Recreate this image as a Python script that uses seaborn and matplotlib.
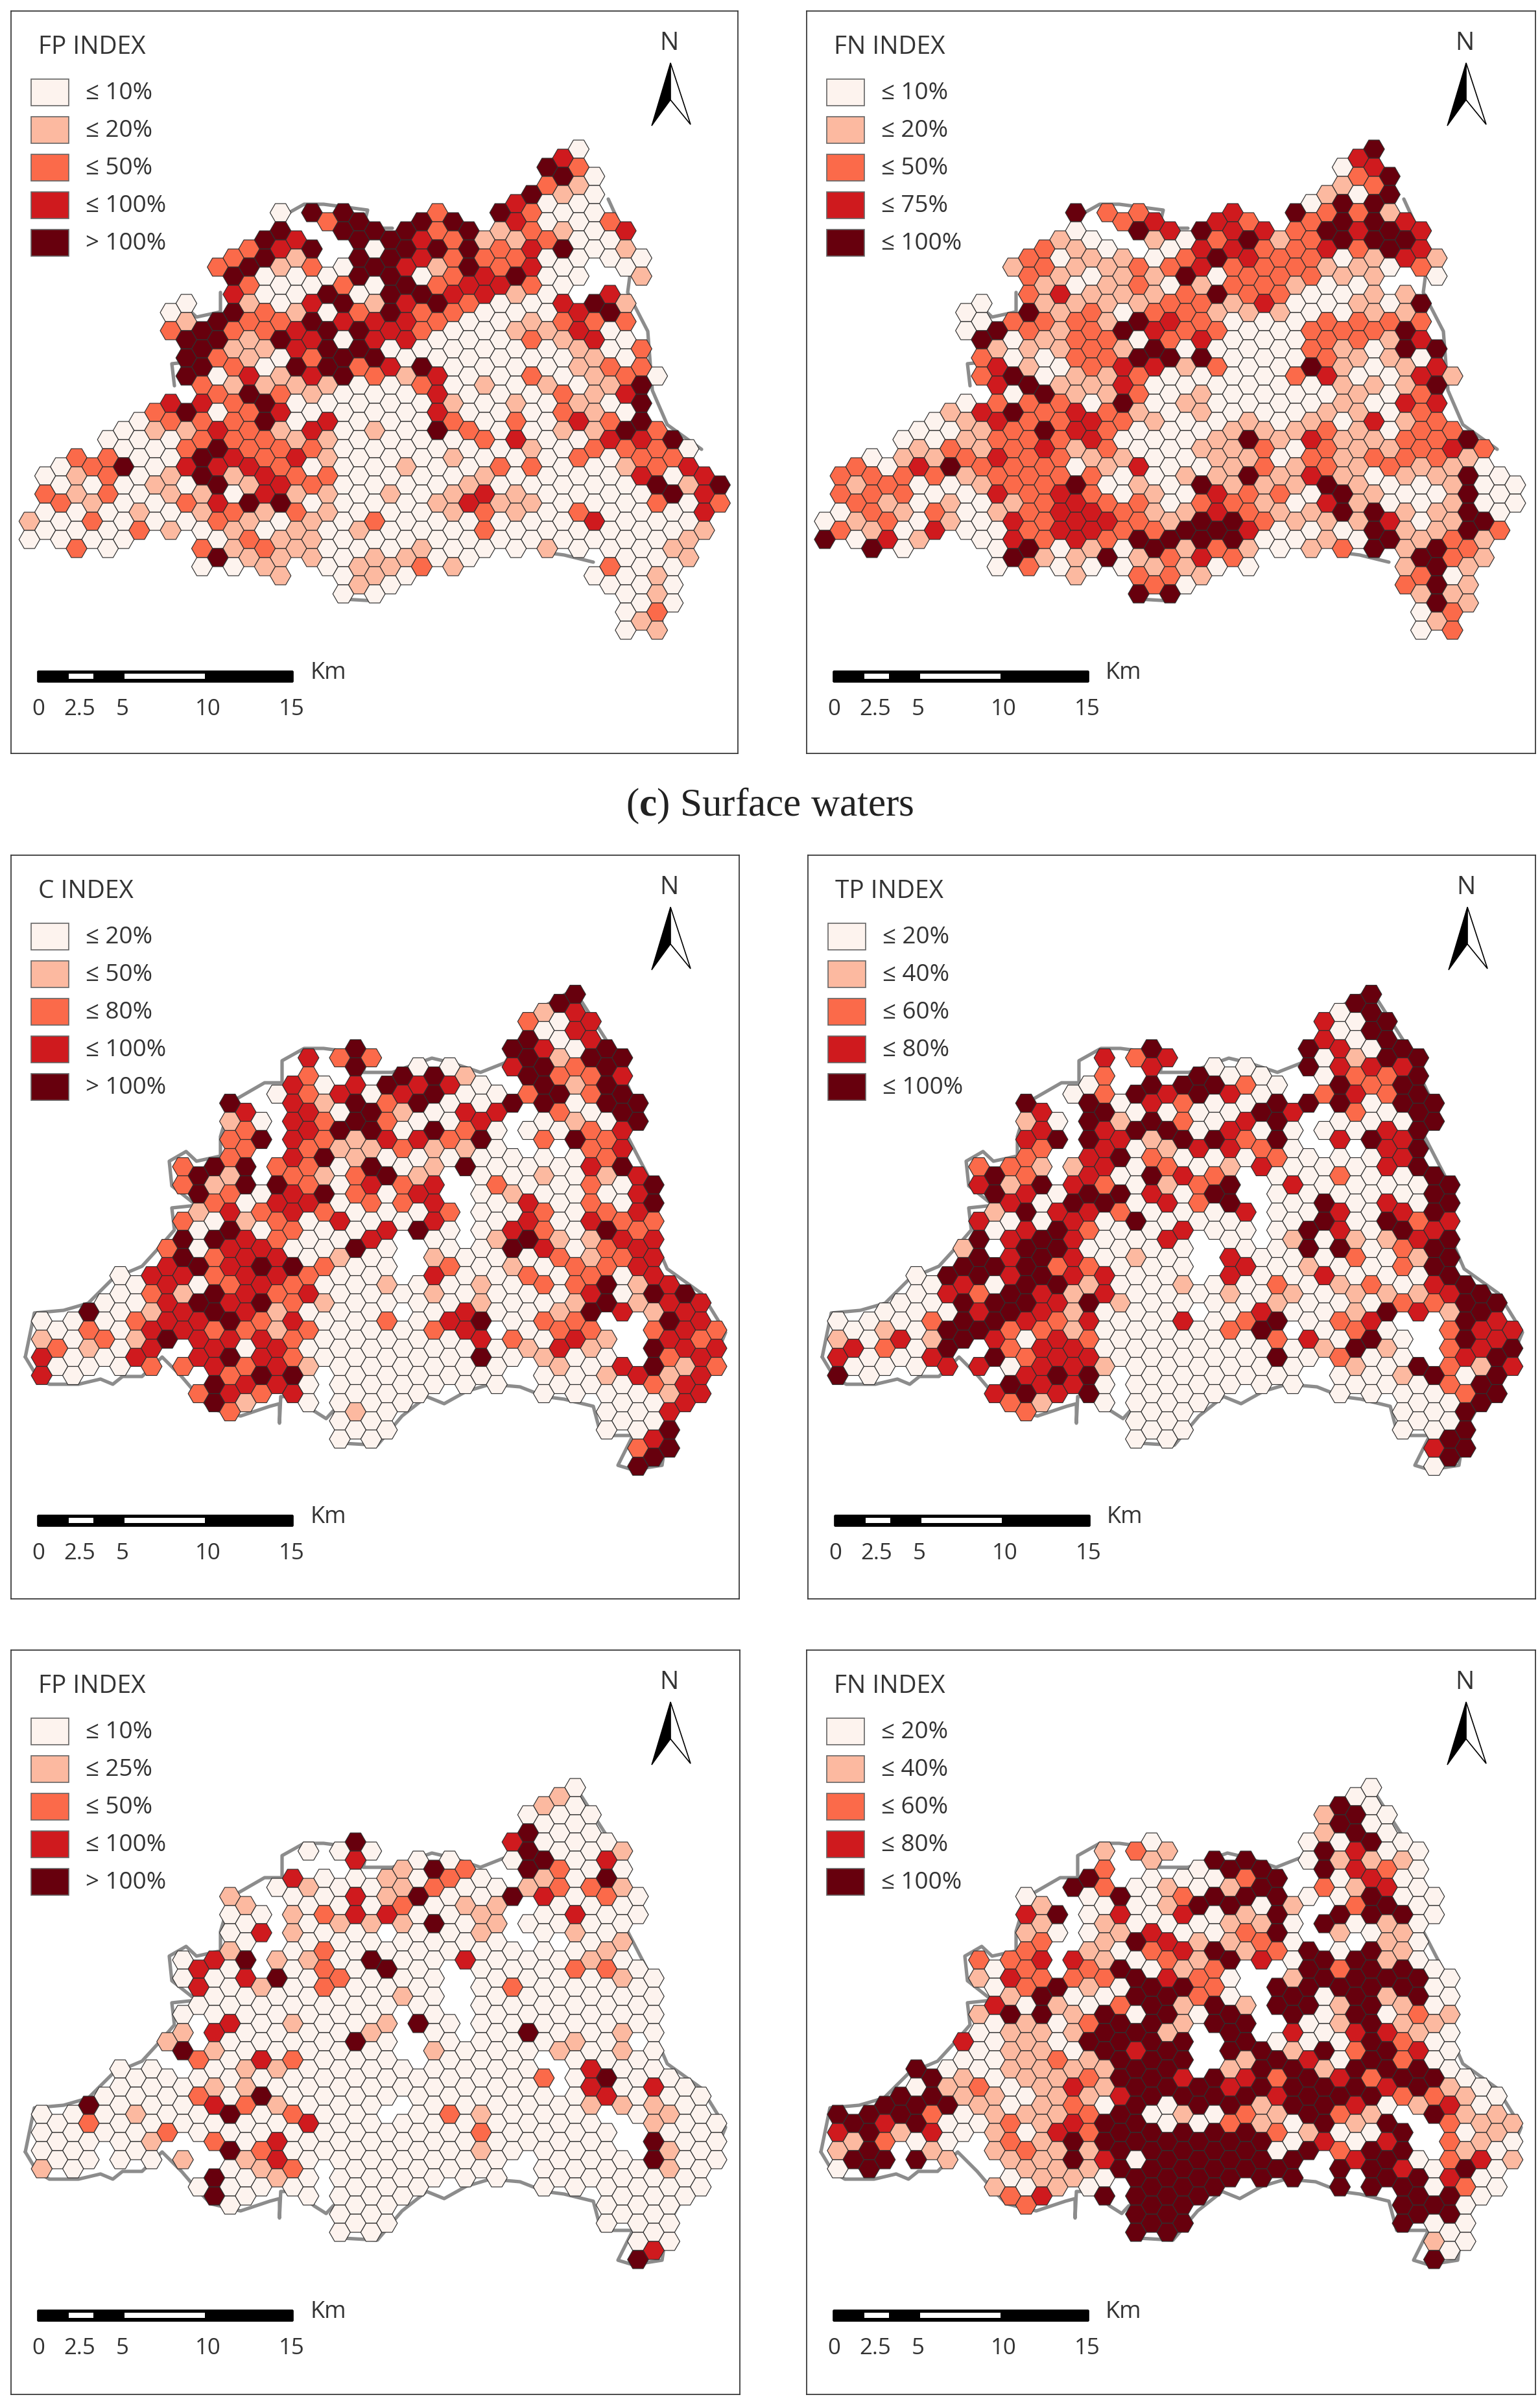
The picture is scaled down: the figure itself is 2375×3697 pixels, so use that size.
import pandas as pd
import matplotlib.pyplot as plt
import matplotlib.patches as mpatches
import seaborn as sns

# class colours of the hexagons (low to high)
class_colors = ['#fdf3ee', '#fcb9a0', '#fb6a4a', '#cf1a1e', '#67000d']

# hexagon classes, one string per half row, '.' = no hexagon
fp_a_rows = [
    ".................0", ".................3", "................42", ".................40",
    "................21", "................410", "...............300", "........044..2.4200",
    ".........24.44.3002", "........4.4442412103", ".......43.443211200", ".......234.044423401",
    "......241.4432220000", "......241204314230.0", "......400044023400.1", ".......20020423320",
    "......30040443310.3", ".....0.1034134200341", "....0.4210242200034", ".....142243332001222",
    "....242234432001130", ".....441430330002130", ".....411344000000102", ".....421024400000010",
    ".....420442340000122", ".....4031342130020120", ".....211110020101014", "......24210003000213",
    "....3324000001010104", "....2402300003000210", "...02224030002020324", "...011321301042001142",
    "..0002221100002300334", "...0024222000000102220", ".22004323100010002022", ".024033320001002200123",
    "0120141322000010000303", ".0001041320000100000414", "2120110311010131000043", ".2100234400001311000202",
    "0001012121000121020003", "1020002101020000003000", "0002101010100020000001", "0000..0211000000000001",
    ".20..2121000100010001", "......411101100....001", ".....001.01121....200", "........1.010.....001",
    "..........10......000", "..........00.......01", "...................00", "...................02",
    "...................1", "...................01",
]
fn_a_rows = [
    ".................4", ".................3", "................03", ".................24",
    "................12", "................104", "...............044", "........422..3.4221",
    ".........23.32.2443", "........0.4343324343", ".......10.102412444", ".......210.033223243",
    "......20110243220131", "......12112232221102", "......210114022211.0", ".......10120122100",
    "......2311124220011", ".....0.1111221300104", "....0.4120221110011", ".....022214320002222",
    "....042124322002224", ".....401220230002213", ".....111214000021044", ".....200224440002110",
    ".....310233120041013", ".....2401120000230031", ".....341130000001114", "......04112010000102",
    "....0222040100001033", "....1342321010001102", "...01322321001010312", "...001243200011121022",
    "..0012223000141311224", "...1212312001120211232", ".01123221100110212221", ".203422201300121212110",
    "2222122220011413101140", ".1200122401041114100100", "2220032320103220410040", ".2101012322022103100100",
    "0212012332113211441140", "0120103233214421113014", "2103002332244300041142", "4031.03232444400104121",
    ".40..0401041210124142", "......41141232.....421", ".....020001100....141", "........1.221......20",
    "..........20......241", "..........44.......11", "...................41", "...................02",
    "...................1", "...................02",
]
c_rows = [
    ".................4", "................4", "................13", "...............203",
    "................03", "...............403", "..........4....4304", "........322....4144",
    "..........4.00.3424", "........2..441.4223", "........3034330.414", ".......023034002424",
    "......4.314240044044", "......3.3041033.204", "......103242003.0104", "......2.34404200023",
    "......243213324.242", "......2.2112110..23", "......2.34100000002", "....244220401400034",
    ".....41.21241.001013", "....214420323.200204", ".....42034203.010003", ".....20330223.030204",
    ".....132320002002023", "....201203003.030322", ".....040200340032042", "....4432003.0.141133",
    "....20330040.0043023", "....4233010.10002123", "....34344200.2010223", "..033233200.30020203",
    "...030232001001022413", "..0214323000100003044", "..00343421000010014133", ".4013431000.030014313",
    "000233423002034022..43", "02033221200023.022.232", "1021433320000032031.32", "2103.3030000000131.433",
    "3003.34320000040100.23", "000223231000000.103412", "30....244.00000.001313", ".....4330000000.00023",
    ".....2323.000...000013", ".....41.0000......003", "......2...10......003", ".........00.......00",
    "..........00......004", ".........00........3", "...................24", "...................4",
    "...................4",
]
tp_rows = [
    ".................4", "................4", "................04", "...............304",
    "................04", "...............304", "..........4....4304", "........323....0144",
    "..........3.00.4333", "........2..400.0224", "........0.44420.424", ".......0243430.2324",
    "......4.403200444044", "......3.4000043.204", "......104142034.0004", "......3.34403000034",
    "......344314424.343", "......2.3013320..34", "......2.34200020003", "....221130201300034",
    ".....42.30432.002004", "....314320124.300004", ".....43044304.000004", ".....30440324.040304",
    ".....143320003003034", "....300304000.040423", ".....034200300043043", "....4343003.0.101134",
    "....1.440000.0044024", "....4343010.30002014", "....44422000.3010024", "..044343300.30030004",
    "...030441001002012034", "..0324313000101011134", "..00444341000010002244", ".0003431000.030014314",
    "000244323003024023..43", "01044221000024.020.233", "1031430320000023040.43", "3204.2330000000141.234",
    "3003.42330000040200.34", "000330331000000.104213", "40....344.00000.001404", ".....4330000000.00024",
    ".....3434.000...000024", ".....21.0000......004", "......2...00......004", ".........00.......00",
    "..........00......004", ".........00........4", "...................34", "...................4",
    "...................0",
]
fp_b_rows = [
    ".................0", "................1", "................10", "...............000",
    "................00", "...............400", "..........4....3000", "........000....4001",
    "..........3.00.0403", "...........142.4200", "........3001020.104", ".......010012001221",
    "......1.003140043020", "......1.0002011.000", "......001233001.0300", "......0.01114010000",
    "......03100.001.010", "......0.0000000..01", "......1.02000000001", "....034110400300010",
    ".....30.02040.000220", "....003402000.000010", ".....30102000.020000", ".....00000010.000000",
    ".....00000000.000000", "....0000000.0.000000", "......30100140000000", "....1300001.0.040010",
    "....1.000040.000010", "....4100000.10001010", ".....2032000.000.000", "..00.01100000000.300",
    "...000000000000020400", "..00011000000000.3030", "..00020400000000003000", ".4000321000.000001110",
    "00010040200.021000.010", "020000003000000000.100", "0000200000000020000.00", "0001.2030000000000.400",
    "00.0..4200000010000.10", "00001.130000000.000400", "10....012.00000.000010", ".....4010000000.00000",
    ".....0000.000...000000", ".....40.0000......000", "......0...00......000", ".........00.......00",
    "..........00......000", ".........00........0", "...................00", "...................3",
    "...................4",
]
fn_b_rows = [
    ".................0", "................0", "................40", "...............140",
    "................40", "...............140", "..........0....0040", "........121....4300",
    "..........1.44.0111", "........2..044.4320", "........4.00024.030", ".......4201014.2130",
    "......0.040244400400", "......1.0014401.240", "......340303014.4440", "......1.10001104010",
    "......100130024.101", "......2.1431120..10", "......2.10234124041", "....223310214304410",
    ".....02.24012..42440", "....132224320.144440", ".....02410442.444440", ".....14004420.404140",
    ".....301024141441410", "....144140404.404021", ".....010244144.01411", "....0111441.4.303310",
    "....30104444.4000420", "....0110434.44142430", "....00121444.1430420", "..400111144.14414440",
    "...410112443432432440", "..0120131444344443410", "..44110113444434442210", ".44410120404414430130",
    "444201112401021421.411", "434002134400210414.211", "3413010324444421004.01", "1200.2144444440303.210",
    "14.1.12114444404244.10", "4441.1143044444.340231", "04....111444444.443040", ".....0110444444..4430",
    ".....1010.444...444020", ".....23.4444......440", "......2...44......440", ".........44.......44",
    "..........44......400", ".........44........0", "...................10", "...................0",
    "...................4",
]

panel_titles = ['FP INDEX', 'FN INDEX', 'C INDEX', 'TP INDEX', 'FP INDEX', 'FN INDEX']
panel_rows = [fp_a_rows, fn_a_rows, c_rows, tp_rows, fp_b_rows, fn_b_rows]
legend_labels = [
    ['≤ 10%', '≤ 20%', '≤ 50%', '≤ 100%', '> 100%'],
    ['≤ 10%', '≤ 20%', '≤ 50%', '≤ 75%', '≤ 100%'],
    ['≤ 20%', '≤ 50%', '≤ 80%', '≤ 100%', '> 100%'],
    ['≤ 20%', '≤ 40%', '≤ 60%', '≤ 80%', '≤ 100%'],
    ['≤ 10%', '≤ 25%', '≤ 50%', '≤ 100%', '> 100%'],
    ['≤ 20%', '≤ 40%', '≤ 60%', '≤ 80%', '≤ 100%'],
]
scale_labels = ['0', '2.5', '5', '10', '15']
scale_label_x = [42, 106, 172, 304, 433]

# study area outline, pixels from the panel corner
outline_x = [22, 40, 59, 104, 138, 157, 172, 202, 233, 263, 286, 308, 354, 399, 414, 414, 416, 444, 467, 486,
             497, 512, 565, 603, 641, 668, 702, 739, 785, 823, 853, 898, 910, 959, 936, 959, 1004, 1012, 1042,
             1080, 1102, 1065, 1012, 989, 982, 951, 959, 921, 868, 815, 762, 724, 679, 649, 588, 543, 550, 505,
             482, 452, 418, 418, 391, 339, 323, 323, 286, 270, 244, 248, 286, 248, 252, 233, 202, 157, 119, 81,
             36, 22]
outline_y = [774, 804, 816, 816, 808, 816, 804, 804, 774, 804, 831, 854, 865, 850, 846, 876, 835, 835, 857, 869,
             857, 907, 910, 865, 835, 846, 827, 816, 820, 835, 839, 850, 895, 895, 941, 948, 941, 888, 835,
             789, 736, 676, 638, 585, 494, 434, 373, 290, 207, 237, 320, 335, 320, 313, 335, 335, 307, 301,
             298, 298, 317, 351, 351, 381, 434, 464, 472, 457, 472, 510, 540, 544, 578, 600, 634, 653, 691, 702,
             706, 774]
# the top two maps only show parts of the outline
full_outline = [(0, len(outline_x))]
part_outline = [(21, 23), (29, 32), (35, 37), (41, 48), (54, 61), (64, 68), (70, 73)]

# layout in figure pixels: frame left/top/right/bottom, first hexagon x/y, row parity
W, H = 2375, 3698
frames = [(17, 18, 1138, 1163), (1244, 18, 2368, 1163), (17, 1320, 1140, 2467),
          (1246, 1320, 2368, 2467), (17, 2546, 1141, 3694), (1244, 2546, 2368, 3694)]
origins = [(45.4, 231, 1), (1272, 231, 1), (64.3, 1534.5, 0),
           (1292, 1534.5, 0), (64.3, 2758, 0), (1292, 2758, 0)]
DX, DY = 24.2, 14.0

sns.set_theme(style='white')
plt.rcParams['font.family'] = ['Open Sans', 'DejaVu Sans']
plt.rcParams['mathtext.fontset'] = 'custom'
plt.rcParams['mathtext.rm'] = 'Liberation Serif'
plt.rcParams['mathtext.bf'] = 'Liberation Serif:bold'

fig = plt.figure(figsize=(W / 100, H / 100), dpi=100, facecolor='white')


def hex_table(rows, parity):
    recs = []
    for r, row in enumerate(rows):
        for i, ch in enumerate(row):
            if ch != '.':
                col = 2 * i + (1 if (r % 2 == 0) == (parity == 1) else 0)
                recs.append((col, r, int(ch)))
    return pd.DataFrame(recs, columns=['col', 'row', 'cls'])


for k in range(6):
    L, T, R, B = frames[k]
    x0, y0, parity = origins[k]
    ax = fig.add_axes([L / W, 1 - B / H, (R - L) / W, (B - T) / H])
    ax.set_xlim((L - x0) / DX, (R - x0) / DX)
    ax.set_ylim((B - y0) / DY, (T - y0) / DY)

    ol_x = [(v + L - x0) / DX for v in outline_x]
    ol_y = [(v + T - y0) / DY for v in outline_y]
    for a, b in (part_outline if k < 2 else full_outline):
        ax.plot(ol_x[a:b], ol_y[a:b], color='#8c8c8c', lw=3.8, solid_joinstyle='round', zorder=1)

    sns.scatterplot(data=hex_table(panel_rows[k], parity), x='col', y='row', hue='cls',
                    palette=dict(enumerate(class_colors)), hue_order=[0, 1, 2, 3, 4],
                    marker='H', s=540, edgecolor='#2f2f2f', linewidth=0.85,
                    legend=False, ax=ax, zorder=2)
    ax.set_xlabel('')
    ax.set_ylabel('')
    ax.set_xticks([])
    ax.set_yticks([])
    for s in ax.spines.values():
        s.set_visible(True)
        s.set_color('#3a3a3a')
        s.set_linewidth(1.3)

# legends, scale bars and north arrows go on a top layer in pixels
ov = fig.add_axes([0, 0, 1, 1])
ov.set_xlim(0, W)
ov.set_ylim(H, 0)
ov.axis('off')
ov.patch.set_alpha(0)
txt = '#333333'

for k in range(6):
    L, T = frames[k][0], frames[k][1]
    ov.text(L + 42, T + 55, panel_titles[k], fontsize=28, color=txt, va='center')
    for j, lab in enumerate(legend_labels[k]):
        ov.add_patch(mpatches.Rectangle((L + 31, T + 105 + 58 * j), 58, 41, fc=class_colors[j],
                                        ec='#666666', lw=1.2))
        ov.text(L + 115, T + 126 + 58 * j, lab, fontsize=26.5, color=txt, va='center')
    # north arrow
    ov.text(L + 1015, T + 49, 'N', fontsize=28, color=txt, ha='center', va='center')
    ov.add_patch(mpatches.Polygon([(L + 1017, T + 80), (L + 988, T + 177), (L + 1017, T + 137)], fc='black', ec='black', lw=1))
    ov.add_patch(mpatches.Polygon([(L + 1017, T + 80), (L + 1048, T + 175), (L + 1017, T + 137)], fc='white', ec='black', lw=1.2))
    # scale bar
    ov.add_patch(mpatches.FancyBboxPatch((L + 42, T + 1019), 392, 15, boxstyle='round,pad=1.5,rounding_size=2', fc='black', ec='black', lw=0.5))
    ov.add_patch(mpatches.Rectangle((L + 89, T + 1022), 38, 8, fc='white', ec='none'))
    ov.add_patch(mpatches.Rectangle((L + 175, T + 1022), 124, 8, fc='white', ec='none'))
    ov.text(L + 461, T + 1020, 'Km', fontsize=26, color=txt, va='center')
    for lx, lab in zip(scale_label_x, scale_labels):
        ov.text(L + lx, T + 1076, lab, fontsize=25, color=txt, ha='center', va='center')

ov.text(1187, 1243, r'($\mathbf{c}$) Surface waters', fontsize=44, color='#222222', ha='center',
        va='center', family='Liberation Serif')

fig.savefig('out.png', dpi=100, facecolor='white')
